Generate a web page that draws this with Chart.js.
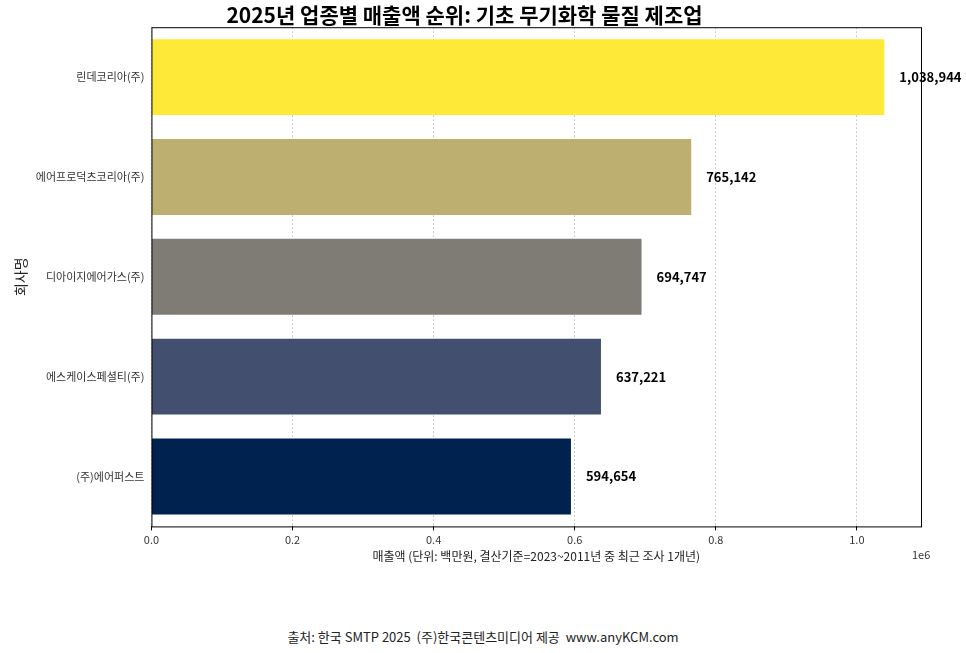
<!DOCTYPE html>
<html><head><meta charset="utf-8">
<script src="https://cdn.jsdelivr.net/npm/chart.js@4.4.0/dist/chart.umd.min.js"></script>
<style>
body{margin:0;background:#fff;font-family:'Noto Sans CJK KR',sans-serif;}
#wrap{position:absolute;left:0;top:0;width:966px;height:568px;}
#src{position:absolute;left:0;width:966px;top:627px;text-align:center;font-size:13px;color:#222;}
</style></head><body>
<div id="wrap"><canvas id="c"></canvas></div>
<div id="src">출처: 한국 SMTP 2025 &nbsp;(주)한국콘텐츠미디어 제공 &nbsp;www.anyKCM.com</div>
<script>
const companies = ['린데코리아(주)', '에어프로덕츠코리아(주)', '디아이지에어가스(주)', '에스케이스페셜티(주)', '(주)에어퍼스트'];
const sales = [1038944, 765142, 694747, 637221, 594654];
const barColors = ['#FEE838', '#BCAF6F', '#7F7C75', '#424F6E', '#00224E'];
const xTicks = [0, 0.2, 0.4, 0.6, 0.8, 1.0];

const FONT = "'Noto Sans CJK KR', sans-serif";
Chart.defaults.font.family = FONT;
Chart.defaults.color = '#222';

const valueLabels = {
  id: 'valueLabels',
  afterDatasetsDraw(chart) {
    const ctx = chart.ctx;
    const a = chart.chartArea;
    const meta = chart.getDatasetMeta(0);
    ctx.save();
    ctx.font = 'bold 13px ' + FONT;
    ctx.fillStyle = '#000';
    ctx.textBaseline = 'middle';
    meta.data.forEach((bar, i) => {
      ctx.fillText(sales[i].toLocaleString('en-US'), bar.x + 15, bar.y);
    });
    ctx.strokeStyle = '#000';
    ctx.lineWidth = 1;
    ctx.strokeRect(a.left + 0.5, a.top + 0.5, a.right - a.left, a.bottom - a.top);
    ctx.fillStyle = '#333';
    ctx.font = '11px ' + FONT;
    ctx.fillText('1e6', a.right - 9, a.bottom + 28);
    ctx.restore();
  }
};

new Chart(document.getElementById('c'), {
  type: 'bar',
  data: {
    labels: companies,
    datasets: [{ data: sales, backgroundColor: barColors, barPercentage: 0.76, categoryPercentage: 1 }]
  },
  options: {
    indexAxis: 'y',
    responsive: true,
    maintainAspectRatio: false,
    animation: false,
    layout: { padding: { left: 8, right: 45, top: 0, bottom: 0 } },
    plugins: {
      legend: { display: false },
      tooltip: { enabled: false },
      title: {
        display: true,
        text: '2025년 업종별 매출액 순위: 기초 무기화학 물질 제조업',
        font: { size: 21, weight: 'bold' },
        color: '#000',
        padding: { top: 2, bottom: 0 }
      }
    },
    scales: {
      x: {
        min: 0,
        max: 1090900,
        afterBuildTicks: s => { s.ticks = xTicks.map(v => ({ value: v * 1e6 })); },
        ticks: { callback: v => (v / 1e6).toFixed(1), font: { size: 11 }, color: '#333' },
        grid: { color: '#ccc', drawTicks: true, tickColor: '#000', tickLength: 4 },
        border: { display: false, dash: [2, 2] },
        title: { display: true, text: '매출액 (단위: 백만원, 결산기준=2023~2011년 중 최근 조사 1개년)', font: { size: 12 }, padding: { top: 0 } }
      },
      y: {
        grid: { display: false, drawTicks: true, tickColor: '#000', tickLength: 4 },
        border: { display: false },
        ticks: { font: { size: 11 }, color: '#333' },
        title: { display: true, text: '회사명', font: { size: 14 } }
      }
    }
  },
  plugins: [valueLabels]
});
</script>
</body></html>
